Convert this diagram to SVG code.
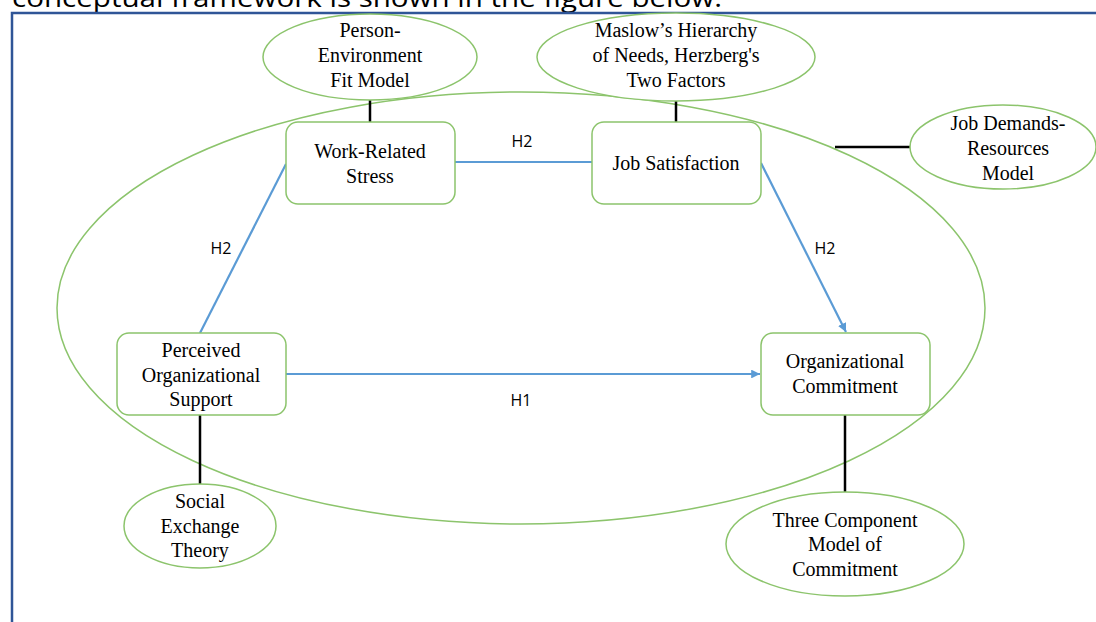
<svg xmlns="http://www.w3.org/2000/svg" width="1096" height="622" viewBox="0 0 1096 622">
<defs>
<style>
.box{fill:#fff;stroke:#8cc46c;stroke-width:1.5}
.ell{fill:#fff;stroke:#8cc46c;stroke-width:1.5}
.t{font-family:"Liberation Serif","Times New Roman",serif;font-size:20px;fill:#000;text-anchor:middle}
.h{font-family:"Open Sans","Liberation Sans",Arial,sans-serif;font-size:16px;fill:#000;text-anchor:middle}
.blue{stroke:#5b9bd5;stroke-width:2.2;fill:none}
.blk{stroke:#000;stroke-width:2.5;fill:none}
</style>
<marker id="arr" viewBox="0 0 10 10" refX="10" refY="5" markerWidth="4" markerHeight="4" orient="auto" markerUnits="strokeWidth">
<path d="M0,0 L10,5 L0,10 z" fill="#5b9bd5"/>
</marker>
</defs>
<rect width="1096" height="622" fill="#fff"/>
<text x="12" y="7" font-family="Open Sans,Liberation Sans,Arial,sans-serif" font-size="26" textLength="710" lengthAdjust="spacingAndGlyphs">conceptual framework is shown in the figure below.</text>
<path d="M12,622 L12,13 L1096,13" fill="none" stroke="#2f5597" stroke-width="2.5"/>
<g id="frame-ellipse"><ellipse cx="521" cy="308" rx="464" ry="216" fill="none" stroke="#8cc46c" stroke-width="1.5"/></g>
<g id="connectors">
<line class="blk" x1="370" y1="100" x2="370" y2="122"/>
<line class="blk" x1="676" y1="100" x2="676" y2="122"/>
<line class="blk" x1="835" y1="147" x2="911" y2="147"/>
<line class="blk" x1="200" y1="415" x2="200" y2="484"/>
<line class="blk" x1="845" y1="415" x2="845" y2="492"/>
<line class="blue" x1="455" y1="162" x2="592" y2="162"/>
<line class="blue" x1="286" y1="164" x2="200" y2="333"/>
<line class="blue" x1="761" y1="163" x2="846" y2="332" marker-end="url(#arr)"/>
<line class="blue" x1="286" y1="374" x2="760" y2="374" marker-end="url(#arr)"/>
<text class="h" x="522" y="147">H2</text>
<text class="h" x="221" y="254">H2</text>
<text class="h" x="825" y="254">H2</text>
<text class="h" x="521" y="406">H1</text>
</g>
<g id="pe-fit"><ellipse class="ell" cx="370" cy="57" rx="107" ry="43"/>
<text class="t" x="370" y="37">Person-</text><text class="t" x="370" y="62">Environment</text><text class="t" x="370" y="87">Fit Model</text></g>
<g id="maslow"><ellipse class="ell" cx="676" cy="57" rx="139" ry="44"/>
<text class="t" x="676" y="37">Maslow’s Hierarchy</text><text class="t" x="676" y="62">of Needs, Herzberg's</text><text class="t" x="676" y="87">Two Factors</text></g>
<g id="jdr"><ellipse class="ell" cx="1003" cy="147" rx="93" ry="42"/>
<text class="t" x="1008" y="130">Job Demands-</text><text class="t" x="1008" y="155">Resources</text><text class="t" x="1008" y="180">Model</text></g>
<g id="wrs"><rect class="box" x="286" y="122" width="169" height="82" rx="12"/>
<text class="t" x="370" y="158">Work-Related</text><text class="t" x="370" y="183">Stress</text></g>
<g id="js"><rect class="box" x="592" y="122" width="169" height="82" rx="12"/>
<text class="t" x="676" y="170">Job Satisfaction</text></g>
<g id="pos"><rect class="box" x="117" y="333" width="169" height="82" rx="12"/>
<text class="t" x="201" y="357">Perceived</text><text class="t" x="201" y="382">Organizational</text><text class="t" x="201" y="406">Support</text></g>
<g id="oc"><rect class="box" x="761" y="333" width="169" height="82" rx="12"/>
<text class="t" x="845" y="368">Organizational</text><text class="t" x="845" y="393">Commitment</text></g>
<g id="set"><ellipse class="ell" cx="200" cy="526" rx="76" ry="42"/>
<text class="t" x="200" y="508">Social</text><text class="t" x="200" y="533">Exchange</text><text class="t" x="200" y="557">Theory</text></g>
<g id="tcm"><ellipse class="ell" cx="845" cy="544" rx="119" ry="52"/>
<text class="t" x="845" y="527">Three Component</text><text class="t" x="845" y="551">Model of</text><text class="t" x="845" y="576">Commitment</text></g>
</svg>
